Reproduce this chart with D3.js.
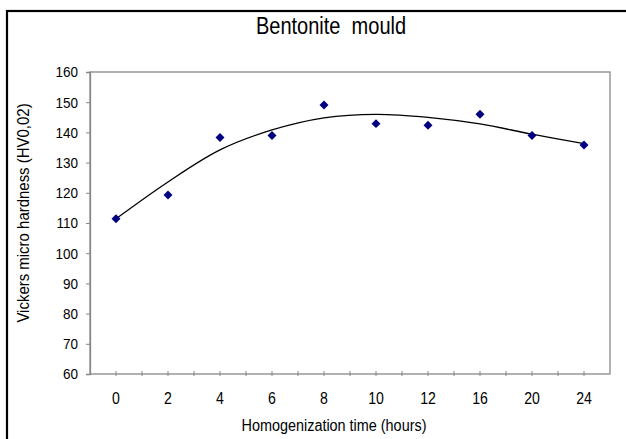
<!DOCTYPE html>
<html>
<head>
<meta charset="utf-8">
<script src="https://cdn.jsdelivr.net/npm/d3@7/dist/d3.min.js"></script>
<style>
  html, body { margin: 0; padding: 0; background: #fff; }
  svg text { font-family: "Liberation Sans", Arial, sans-serif; fill: #000; }
</style>
</head>
<body>
<div id="chart"></div>
<script>
// 資料：均質化時間 vs 維氏微硬度
const hours = ["0", "2", "4", "6", "8", "10", "12", "16", "20", "24"];
const hardness = [111.4, 119.3, 138.3, 139.0, 149.1, 142.9, 142.4, 146.0, 139.0, 135.8];
const trend = [111.4, 123.6, 134.2, 140.8, 144.8, 146.0, 145.0, 142.8, 139.4, 136.3];
const yTicks = [60, 70, 80, 90, 100, 110, 120, 130, 140, 150, 160];

const W = 626, H = 439;
const plot = { left: 90, right: 610, top: 72, bottom: 374 };

const svg = d3.select("#chart").append("svg")
  .attr("width", W).attr("height", H);

// 外框
svg.append("rect")
  .attr("x", 7).attr("y", 11).attr("width", 660).attr("height", 460)
  .attr("fill", "none").attr("stroke", "#000").attr("stroke-width", 2.2);

const x = d3.scaleBand().domain(hours).range([plot.left, plot.right]).padding(0);
const xc = d => x(d) + x.bandwidth() / 2;
const y = d3.scaleLinear().domain([60, 160]).range([plot.bottom, plot.top]);

// 文字略窄（原圖字形偏窄）
function squeeze(sel, k) {
  sel.each(function () {
    const w = this.getComputedTextLength();
    d3.select(this).attr("textLength", w * k).attr("lengthAdjust", "spacingAndGlyphs");
  });
}

// 繪圖區框線
svg.append("rect")
  .attr("x", plot.left).attr("y", plot.top)
  .attr("width", plot.right - plot.left).attr("height", plot.bottom - plot.top)
  .attr("fill", "none").attr("stroke", "#888").attr("stroke-width", 1.3);

// y 軸
const yAxis = svg.append("g").attr("transform", `translate(${plot.left},0)`)
  .call(d3.axisLeft(y).tickValues(yTicks).tickSize(4).tickPadding(8));
yAxis.select(".domain").attr("stroke", "#888").attr("stroke-width", 1.3);
yAxis.selectAll(".tick line").attr("stroke", "#888");
yAxis.selectAll(".tick text").attr("font-size", 15).attr("font-family", null).call(squeeze, 0.9);

// x 軸：類別中心與分界都有刻度
const xTickPos = [];
hours.forEach((h, i) => {
  if (i > 0) xTickPos.push(x(h));
  xTickPos.push(xc(h));
});
svg.append("g").selectAll("line").data(xTickPos).join("line")
  .attr("x1", d => d).attr("x2", d => d)
  .attr("y1", plot.bottom - 3).attr("y2", plot.bottom + 2)
  .attr("stroke", "#888").attr("stroke-width", 1);
svg.append("g").selectAll("text").data(hours).join("text")
  .attr("x", d => xc(d)).attr("y", 404)
  .attr("text-anchor", "middle").attr("font-size", 16)
  .text(d => d)
  .call(squeeze, 0.88);

// 趨勢線
svg.append("path")
  .datum(trend)
  .attr("fill", "none").attr("stroke", "#000").attr("stroke-width", 1.3)
  .attr("d", d3.line().x((d, i) => xc(hours[i])).y(d => y(d)).curve(d3.curveCatmullRom));

// 資料點（菱形）
svg.append("g").selectAll("path").data(hardness).join("path")
  .attr("transform", (d, i) => `translate(${xc(hours[i])},${y(d)}) rotate(45)`)
  .attr("d", d3.symbol().type(d3.symbolSquare).size(40))
  .attr("fill", "#000080");

// 標題
svg.append("text")
  .attr("x", 331).attr("y", 34)
  .attr("text-anchor", "middle").attr("font-size", 23)
  .text("Bentonite\u00a0\u00a0mould")
  .call(squeeze, 0.87);

svg.append("text")
  .attr("x", 334).attr("y", 431)
  .attr("text-anchor", "middle").attr("font-size", 16)
  .text("Homogenization time (hours)")
  .call(squeeze, 0.9);

svg.append("text")
  .attr("transform", "translate(29,213) rotate(-90)")
  .attr("text-anchor", "middle").attr("font-size", 17)
  .text("Vickers micro hardness (HV0,02)")
  .call(squeeze, 0.88);
</script>
</body>
</html>
